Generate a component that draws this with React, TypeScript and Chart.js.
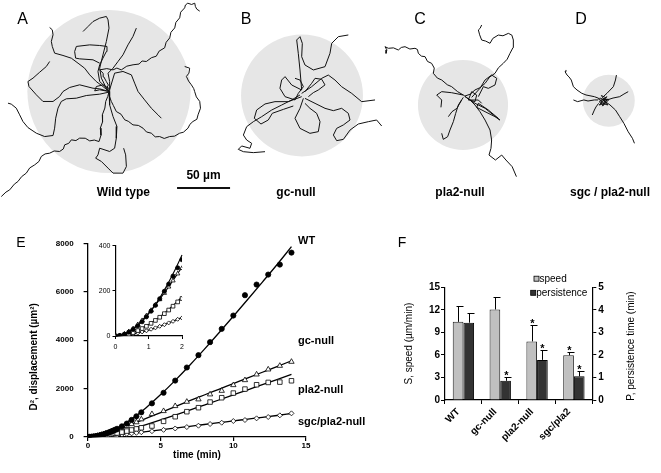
import React, { useEffect, useRef } from 'react';
import { Chart, registerables } from 'chart.js';

Chart.register(...registerables);

const FONT = '"Liberation Sans", Arial, Helvetica, sans-serif';

type Pt = [number, number];

// ---------------- Panels A–D : cell tracks (µm, origin = panel centre) ----------------
const TRACKS_WT: Pt[][] = [
  [[0,0],[-1.8,4.2],[-0.6,6.1],[-2.5,9.4],[-4.9,13.8],[-5.5,17.2],[-8.8,20.4],[-2.1,21.6],[3.8,20.4],[7.4,22.1],[11.6,20.4],[16.8,23.9],[22.7,25.2],[28.4,25.9],[31.2,28.8],[35.2,28.3],[40.1,31.9],[44.6,33.3],[47.3,38.1],[52.5,41.2],[53.9,46.4],[57.3,50.6],[58.4,55.8],[62,60],[63.1,65.2],[66.7,69.5],[67.6,74.8],[71.4,78.9],[72.1,81.6],[74.3,83.3],[77.9,82.1],[80.9,83.3],[81.5,80.2],[82.8,77.7],[85.6,75.8]],
  [[0,0],[-5.7,4.7],[-12,9.4],[-18.2,15.7],[-23,22],[-29.2,26.7],[-35.5,31.4],[-43.4,34],[-51.3,36.2],[-53.5,42.5],[-54.4,47.2],[-52.8,53.5],[-53.5,58.2],[-56,60.4]],
  [[-2,3],[-8.8,9.4],[-10.4,18.9],[-8.8,25.2],[-5.7,31.5],[-2.5,37.7],[-1.9,42.5],[-8.8,43.4],[-18.2,44],[-30.8,42.5],[-32.4,37.7],[-31.5,31.5],[-27.7,30.8],[-15.1,29.9],[-8.8,26.7]],
  [[0,0],[-2.5,3.1],[-7.2,12.6],[-8.8,22],[-5.7,34.6],[-2.5,47.2],[0,59.8],[-0.9,67.6],[-2.5,70.8],[-8.8,69.2],[-15.1,66],[-19.8,61.3],[-24.5,56.6]],
  [[0,0],[0.6,9.4],[-0.9,17.3],[3.8,22],[8.5,28.3],[13.2,34.6],[17.9,44],[22.6,51.9],[25.8,59.8]],
  [[0.6,1.6],[5.3,17.3],[13.2,18.9],[21.1,15.7],[24.2,7.9],[27.4,0],[33.6,-7.9],[39.9,-15.7],[46.2,-22],[49.4,-25.2]],
  [[0,0],[0.4,-4.6],[2.2,-9.4],[4.1,-13.2],[6.9,-18.9],[11.3,-21.4],[14.8,-26.7],[18.2,-28.1],[22.6,-31.5],[27.7,-32.0],[32.1,-34.6],[35.4,-38.2],[39.9,-39.3],[43.6,-42.8],[47.8,-42.5],[52.1,-44.3],[57.2,-42.5],[61.9,-42.1],[66.7,-39.3],[70.2,-38.4],[74.5,-34.6],[76.3,-31.0],[79.2,-28.3],[82.9,-26.2],[84,-22],[86.3,-15.8],[85.6,-9.4],[82.4,-5.1],[80.8,0],[79.9,2.8],[77.7,6.3],[75.1,9.8],[73,14.2],[75.4,17.3],[76.1,22],[71.4,23.6]],
  [[0,0],[-8.8,2.5],[-15.1,3.1],[-27.7,6.3],[-37.1,3.8],[-43.4,0],[-46.6,-4.7],[-52.8,-9.4],[-62.3,-9.4],[-68.6,-3.1],[-75.5,4.7],[-76.5,9.4],[-71.7,12.6],[-65.4,18.2],[-59.1,23.6],[-56,28.3]],
  [[0,-0.6],[-8.8,-2.5],[-21.4,-3.8],[-30.8,-6.3],[-40.3,-6.9],[-45,-9.4],[-48.1,-15.7],[-50.3,-25.2],[-51.3,-34.6],[-52.8,-41.5],[-60.7,-42.5],[-68.6,-39.3],[-76.5,-34],[-81.2,-28.3],[-84.3,-22],[-87.5,-15.7],[-92.2,-11.9],[-95.3,-11]],
  [[0,0],[-1.2,-4.8],[-3.1,-9.4],[-3.9,-15.6],[-6.3,-22],[-6.1,-28.7],[-8.2,-34.6],[-7.6,-41.3],[-9.4,-47.2],[-13.9,-45.8],[-18.2,-46.6],[-22.4,-44.1],[-27.7,-44],[-31.2,-46.3],[-35.5,-45.6],[-38.0,-48.9],[-41.8,-50.3],[-43.1,-54.2],[-46.6,-56.6],[-51.7,-56.1],[-56,-58.2],[-60.3,-58.9],[-63.9,-61.3],[-66.1,-66.0],[-70.1,-69.2],[-74.8,-72.1],[-78,-77],[-82.4,-80.3],[-85.9,-84.9],[-89.3,-87.4],[-93.7,-92.8],[-97.2,-94.9],[-101.6,-99.1]],
  [[0,0],[0.6,-12.6],[3.8,-23.6],[7.5,-33],[6.9,-44],[5.3,-53.5],[0.6,-56.6],[-8.8,-53.5],[-10.4,-59.8],[-12.6,-62.9],[-7.2,-66],[-0.9,-72.3],[3.8,-77],[13.2,-77],[16.4,-70.8],[15.7,-59.8],[13.8,-53.5]],
  [[0,0],[-8.8,1.6],[-13.5,0.6],[-11.9,4.7],[-5.7,6.3],[0.6,2.5]],
];

const TRACKS_GC: Pt[][] = [
  [[-0.3,5.2],[-1.9,24.1],[-3.5,39.8],[-5,52.4],[-1.9,55.5],[0.3,49.2],[-0.3,36.6],[2.8,28.8],[10.7,24.1],[21.7,27.2],[26.4,39.8],[28,49.2],[34.3,55.5],[43.7,57.1]],
  [[-0.3,2],[9.1,8.3],[18.6,16.2],[24.8,19.3],[31.1,14.6],[37.4,8.3],[46.9,2],[56.3,-5.8],[68.9,-4.2]],
  [[2.8,-2.7],[12.3,-7.4],[21.7,-12.1],[29.6,-14.3],[37.4,-12.1],[43.7,-16.8],[45.3,-23.1],[39,-27.8],[32.7,-31],[29.6,-37.3],[32.7,-42.6],[39,-41.4],[45.3,-32.6],[53.1,-26.9],[62.6,-24.7],[70.4,-23.1],[75.2,-28.8]],
  [[-1.9,0.5],[-9.7,-4.2],[-19.2,-9],[-28.6,-13.7],[-38.1,-20],[-45.9,-24.7],[-52.2,-29.4],[-55.3,-37.3],[-52.2,-42],[-47.5,-45.1],[-49.1,-49.8],[-56.9,-47.6],[-60.1,-50.8],[-55.3,-53],[-45.9,-53.9],[-34.9,-53]],
  [[-0.3,5.2],[-9.7,9.9],[-16,17.8],[-19.2,14.6],[-20.8,6.8],[-16,-1.1],[-6.6,-4.2],[-3.5,2],[1.3,8.3],[-1.9,14.6],[-6.6,16.2]],
  [[1.3,-2.7],[-1.9,-12.1],[-6.6,-21.5],[-1.9,-31],[7.5,-35.7],[15.4,-34.1],[17,-24.7],[13.8,-16.8],[7.5,-12.1],[2.8,-7.4]],
  [[-0.3,-1.1],[-12.9,-5.8],[-25.5,-5.8],[-34.9,-8],[-42.8,-13.7],[-45,-21.5],[-38.7,-26.9],[-31.8,-23.1],[-28,-16.8],[-17.6,-13.1],[-8.2,-9.9]],
  [[2.8,3.6],[9.1,11.5],[12.3,16.2],[18.6,15.3],[21.7,10],[15.4,5.2],[10.7,2.7],[6,-1.1]],
];

const TRACKS_PLA2: Pt[][] = [
  [[0.3,9.4],[-5.1,12.6],[-10.7,17.3],[-14.8,19.1],[-20.1,23.6],[-24.2,25.4],[-28,29.9],[-27.1,34.8],[-29.6,39.3],[-33.5,41.1],[-35.8,45.6],[-39.2,46.1],[-42.1,48.7],[-43.0,52.4],[-45.3,53.5],[-50.1,52.8],[-54.7,55],[-58.2,54.3],[-61,51.9],[-65.6,53.9],[-70.4,53.5],[-73.6,55],[-71.8,52.0],[-72.6,48.7]],
  [[1.9,8.5],[6.8,10.2],[11.3,14.2],[16.4,16.5],[20.8,20.4],[25.1,26.3],[30.2,29.9],[33.4,35.1],[38,39.3],[41.7,43.2],[44.3,48.7],[47.2,54.2],[47.5,61.3],[46.1,65.9],[42.8,67.6],[37.7,65.3],[33.3,66],[28.1,62.8],[25.5,58.2],[21.4,60.3],[17.6,61.3],[15.7,66.2],[14.5,70.8],[16.2,72.4],[17.6,75.5]],
  [[8.2,7.2],[16,15.7],[20.8,23.6],[27,28.3],[31.8,25.2],[30.2,18.9],[23.9,15.7],[19.2,17.3],[14.5,7.9]],
  [[0.3,9.4],[-10.7,11.6],[-20.1,12.6],[-24.8,9.4],[-20.1,4.7],[-20.8,-2.2]],
  [[0.3,7.2],[-4.4,0],[-6.9,-7.9],[-9.1,-15.7],[-12.3,-23.6],[-14.5,-29.9],[-18.6,-32.4],[-20.1,-26.7]],
  [[5,6.3],[11.3,0],[16,-6.3],[20.8,-14.2],[25.5,-23.6],[27,-33],[26.4,-40.9],[24.5,-47.2],[30.6,-51.9],[36.5,-47.2],[40.5,-51.9],[46.4,-58.2],[50.4,-67.6]],
  [[1.9,7.9],[11.3,1.6],[20.8,-3.1],[28.6,-9.4],[34.9,-14.2],[30.2,-11],[20.8,-6.3],[12.9,-2.2],[14.5,1.6],[23.9,-4.7],[33.3,-12.6]],
  [[0.3,9.4],[6.6,4.7],[11.3,3.1],[12.9,9.4],[8.2,12.6],[5,4.7],[14.5,4.7],[17.6,1.6]],
  [[-1.3,4.7],[-5.7,-3.1],[-10.4,-6.3],[-13.8,-11]],
];

const TRACKS_SGC: Pt[][] = [
  [[-9.6,2.4],[-13.6,3.9],[-21.5,5.5],[-25.5,7.1],[-30,10.2],[-33.4,13.3],[-35.4,19.6],[-37.5,22.5],[-39.4,24.3],[-41.3,27.5],[-40.4,29.1]],
  [[-5.6,0.8],[1.1,-3.9],[6.3,-8.7],[10.3,-15],[14.2,-21.2],[18.3,-29.2],[22.3,-35.4],[24.2,-40.1]],
  [[-5.5,3.6],[-1.7,7.1],[4.3,13.3],[6.3,19.6],[7.2,24.3]],
  [[-5.5,0.8],[-1.7,0.8],[4,2.6],[10.3,3.9],[14.3,6.4],[18.3,8.6]],
  [[-10.2,0.8],[-13.6,0.8],[-19.6,-0.2],[-23.5,0.8],[-29.4,-0.8],[-33.4,0.8]],
  [[-9.6,-2.4],[-12.1,-5.8],[-13.6,-8.7],[-15.6,-13.4]],
  [[-8,3],[-3,-2],[-9,-4],[-2,4],[-6,-5],[0,1],[-10,2],[-4,-3],[-1,-4],[-7,5],[-3,3],[-9,-1],[-5,-4],[-1,2]],
];

const DISC_WT_UM = 77;
const DISC_GC_UM = 57.5;
const DISC_PLA2_UM = 42.5;
const DISC_SGC_UM = 24.5;
const SCALE_BAR_UM = 50;

// ---------------- Panel E : mean squared displacement ----------------
const TIME_MIN = [0, 0.13, 0.27, 0.4, 0.53, 0.67, 0.8, 0.93, 1.07, 1.2, 1.33, 1.47, 1.6, 1.73, 1.87, 2.0, 2.33, 2.67, 3.0, 3.33, 3.67, 4.4, 5.2, 6.0, 6.8, 7.6, 8.4, 9.2, 10.0, 10.8, 11.6, 12.4, 13.2, 14.0];
const D2_WT = [0, 2, 8, 17, 29, 45, 63, 85, 110, 136, 165, 198, 230, 265, 302, 338, 440, 555, 705, 855, 1018, 1390, 1827, 2330, 2870, 3381, 3918, 4466, 5017, 5856, 6296, 6708, 7121, 7615];
const D2_GC = [0, 2, 9, 20, 33, 51, 69, 90, 114, 138, 162, 190, 218, 245, 276, 300, 378, 455, 535, 610, 730, 948, 1072, 1278, 1456, 1555, 1761, 1909, 2144, 2350, 2584, 2790, 2941, 3107];
const D2_PLA2 = [0, 1, 4, 9, 15, 24, 33, 43, 56, 69, 83, 99, 115, 132, 151, 166, 200, 245, 290, 335, 380, 454, 647, 838, 1045, 1210, 1443, 1622, 1814, 1979, 2158, 2254, 2268, 2322];
const D2_SGC = [0, 1, 2, 5, 9, 13, 18, 23, 30, 36, 43, 50, 58, 65, 74, 80, 104, 127, 150, 173, 197, 240, 295, 352, 410, 467, 536, 591, 660, 701, 770, 825, 895, 977];

const FIT_TIME = [0, 1, 2, 3, 4, 5, 6, 7, 8, 9, 10, 11, 12, 13, 14];
const FIT_WT = [0, 99, 359, 741, 1213, 1752, 2340, 2966, 3621, 4296, 4987, 5688, 6399, 7115, 7860];
const FIT_GC = [0, 100, 300, 530, 770, 1010, 1255, 1500, 1735, 1970, 2205, 2440, 2675, 2910, 3146];
const FIT_PLA2 = [0, 50, 169, 328, 509, 703, 906, 1112, 1320, 1528, 1739, 1950, 2162, 2373, 2585];
const FIT_SGC = [0, 26, 82, 149, 221, 294, 368, 442, 516, 590, 665, 739, 814, 888, 970];

const FIT_TIME_INSET = [0, 0.25, 0.5, 0.75, 1, 1.25, 1.5, 1.75, 2, 2.05];
const FIT_WT_INSET = [0, 7, 26, 57, 99, 150, 211, 281, 359, 375];
const FIT_GC_INSET = [0, 8, 30, 62, 102, 147, 197, 250, 305, 316];
const FIT_PLA2_INSET = [0, 4, 14, 30, 51, 76, 105, 138, 173, 180];
const FIT_SGC_INSET = [0, 2, 8, 16, 26, 39, 52, 67, 82, 85];
const INSET_MAX_TIME = 2;

const E_SERIES_LABELS = ['WT', 'gc-null', 'pla2-null', 'sgc/pla2-null'];

// ---------------- Panel F : speed & persistence ----------------
const F_CATEGORIES = ['WT', 'gc-null', 'pla2-null', 'sgc/pla2'];
const SPEED = [10.4, 12.05, 7.8, 5.95];
const SPEED_ERR = [2.05, 1.6, 2.2, 0.5];
const PERSISTENCE = [3.43, 0.85, 1.78, 1.05];
const PERSISTENCE_ERR = [0.43, 0.17, 0.45, 0.25];
const SPEED_SIGNIFICANT = [false, false, true, true];
const PERSISTENCE_SIGNIFICANT = [false, true, true, true];

// ---------------- layout ----------------
const PX_PER_UM = 1.06;

const pts = (xs: number[], ys: number[]) => xs.map((x, i) => ({ x, y: ys[i] }));
const plainTick = (v: any) => String(v);

function TrackPanel(p: any) {
  const ref = useRef<HTMLCanvasElement>(null);
  useEffect(() => {
    const { tracks, radius, left, top, width, height, cx, cy, scaleBar } = p;
    const ox = cx - left;
    const oy = cy - top;
    const disc = {
      id: 'disc',
      beforeDatasetsDraw(chart: any) {
        const { ctx, scales } = chart;
        const x0 = scales.x.getPixelForValue(0);
        const y0 = scales.y.getPixelForValue(0);
        const rx = scales.x.getPixelForValue(radius) - x0;
        const ry = y0 - scales.y.getPixelForValue(radius);
        ctx.save();
        ctx.fillStyle = '#e6e6e6';
        ctx.beginPath();
        ctx.ellipse(x0, y0, rx, ry, 0, 0, Math.PI * 2);
        ctx.fill();
        ctx.restore();
      },
    };
    const bar = {
      id: 'scaleBar',
      afterDatasetsDraw(chart: any) {
        if (!scaleBar) return;
        const { ctx, scales } = chart;
        const x1 = scales.x.getPixelForValue(scaleBar.x);
        const x2 = scales.x.getPixelForValue(scaleBar.x + SCALE_BAR_UM);
        const y = scales.y.getPixelForValue(scaleBar.y);
        ctx.save();
        ctx.strokeStyle = '#111';
        ctx.lineWidth = 2;
        ctx.beginPath();
        ctx.moveTo(x1, y);
        ctx.lineTo(x2, y);
        ctx.stroke();
        ctx.fillStyle = '#000';
        ctx.font = `bold 12px ${FONT}`;
        ctx.textAlign = 'center';
        ctx.textBaseline = 'middle';
        ctx.fillText(`${SCALE_BAR_UM} µm`, (x1 + x2) / 2, y - 12);
        ctx.restore();
      },
    };
    const chart = new Chart(ref.current as HTMLCanvasElement, {
      type: 'scatter',
      data: {
        datasets: tracks.map((tr: Pt[]) => ({
          data: tr.map(([x, y]) => ({ x, y })),
          showLine: true,
          pointRadius: 0,
          borderColor: '#111',
          borderWidth: 1,
          tension: 0,
        })),
      },
      options: {
        responsive: false,
        animation: false,
        events: [],
        layout: { padding: 0 },
        plugins: { legend: { display: false }, tooltip: { enabled: false } },
        scales: {
          x: { type: 'linear', display: false, min: -ox / PX_PER_UM, max: (width - ox) / PX_PER_UM },
          y: { type: 'linear', display: false, min: -(height - oy) / PX_PER_UM, max: oy / PX_PER_UM },
        },
      } as any,
      plugins: [disc, bar],
    });
    return () => chart.destroy();
  }, []);
  return (
    <canvas
      ref={ref}
      width={p.width}
      height={p.height}
      style={{ position: 'absolute', left: p.left, top: p.top, width: p.width, height: p.height }}
    />
  );
}

const SERIES_STYLE = [
  { pointStyle: 'circle', fill: '#000', r: 2.6, rIn: 2.1 },
  { pointStyle: 'triangle', fill: '#fff', r: 3.1, rIn: 2.5 },
  { pointStyle: 'rect', fill: '#fff', r: 3.2, rIn: 2.6 },
  { pointStyle: 'rectRot', fill: '#fff', r: 2.5, rIn: 2.0 },
];

function PanelE() {
  const mainRef = useRef<HTMLCanvasElement>(null);
  const insetRef = useRef<HTMLCanvasElement>(null);
  useEffect(() => {
    const values = [D2_WT, D2_GC, D2_PLA2, D2_SGC];
    const fits = [FIT_WT, FIT_GC, FIT_PLA2, FIT_SGC];
    const fitsIn = [FIT_WT_INSET, FIT_GC_INSET, FIT_PLA2_INSET, FIT_SGC_INSET];

    const axisFont = (size: number, bold: boolean) => ({ family: FONT, size, weight: bold ? 'bold' : 'normal' });

    const markerSet = (vals: number[], i: number, inset: boolean) => {
      const s = SERIES_STYLE[i];
      const data = pts(TIME_MIN, vals).filter((d) => !inset || d.x <= INSET_MAX_TIME);
      return {
        label: E_SERIES_LABELS[i],
        data,
        showLine: false,
        pointStyle: s.pointStyle,
        pointRadius: inset ? s.rIn : s.r,
        pointBackgroundColor: s.fill,
        pointBorderColor: '#000',
        pointBorderWidth: 0.8,
        order: 1,
      };
    };
    const fitSet = (xs: number[], ys: number[]) => ({
      data: pts(xs, ys),
      showLine: true,
      pointRadius: 0,
      borderColor: '#000',
      borderWidth: 1.3,
      cubicInterpolationMode: 'monotone',
      clip: false,
      order: 2,
    });

    const main = new Chart(mainRef.current as HTMLCanvasElement, {
      type: 'scatter',
      data: {
        datasets: [
          ...values.map((v, i) => markerSet(v, i, false)),
          ...fits.map((f) => fitSet(FIT_TIME, f)),
        ],
      },
      options: {
        responsive: false,
        animation: false,
        events: [],
        layout: { padding: { left: 0, top: 18.3, right: 24, bottom: 0 } },
        plugins: { legend: { display: false }, tooltip: { enabled: false } },
        scales: {
          x: {
            type: 'linear', min: 0, max: 15,
            afterFit: (s: any) => { s.height = 36; },
            ticks: { stepSize: 5, color: '#000', font: axisFont(8, true), padding: 0, maxRotation: 0, callback: plainTick },
            grid: { drawOnChartArea: false, drawTicks: true, tickLength: 4, color: '#000', lineWidth: 1.2 },
            border: { color: '#000', width: 1.3 },
            title: { display: true, text: 'time (min)', color: '#000', font: axisFont(10, true), padding: { top: 0, bottom: 12 } },
          },
          y: {
            type: 'linear', min: 0, max: 8000,
            afterFit: (s: any) => { s.width = 88; },
            ticks: { stepSize: 2000, color: '#000', font: axisFont(8, true), padding: 10, callback: plainTick },
            grid: { drawOnChartArea: false, drawTicks: true, tickLength: 4.4, color: '#000', lineWidth: 1.2 },
            border: { color: '#000', width: 1.3 },
            title: {
              display: true,
              text: 'D², displacement (µm²)' + '\u00a0'.repeat(12),
              color: '#000', font: axisFont(10, true), padding: { top: 28, bottom: 0 },
            },
          },
        },
      } as any,
    });

    const inset = new Chart(insetRef.current as HTMLCanvasElement, {
      type: 'scatter',
      data: {
        datasets: [
          ...values.map((v, i) => markerSet(v, i, true)),
          ...fitsIn.map((f) => ({ ...fitSet(FIT_TIME_INSET, f), borderWidth: 1.1 })),
        ],
      },
      options: {
        responsive: false,
        animation: false,
        events: [],
        layout: { padding: { left: 0, top: 10.7, right: 13, bottom: 0 } },
        plugins: { legend: { display: false }, tooltip: { enabled: false } },
        scales: {
          x: {
            type: 'linear', min: 0, max: INSET_MAX_TIME,
            afterFit: (s: any) => { s.height = 19; },
            ticks: { stepSize: 1, color: '#000', font: axisFont(7, false), padding: 4, maxRotation: 0, callback: plainTick },
            grid: { drawOnChartArea: false, drawTicks: true, tickLength: 3, color: '#000' },
            border: { color: '#000', width: 1.2 },
          },
          y: {
            type: 'linear', min: 0, max: 400,
            afterFit: (s: any) => { s.width = 20.5; },
            ticks: { stepSize: 200, color: '#000', font: axisFont(7, false), padding: 2, callback: plainTick },
            grid: { drawOnChartArea: false, drawTicks: true, tickLength: 3, color: '#000' },
            border: { color: '#000', width: 1.2 },
          },
        },
      } as any,
    });

    return () => { main.destroy(); inset.destroy(); };
  }, []);
  return (
    <>
      <canvas ref={mainRef} width={330} height={248} style={{ position: 'absolute', left: 0, top: 225, width: 330, height: 248 }} />
      <canvas ref={insetRef} width={100} height={120} style={{ position: 'absolute', left: 95, top: 235, width: 100, height: 120 }} />
    </>
  );
}

function PanelF() {
  const ref = useRef<HTMLCanvasElement>(null);
  useEffect(() => {
    const axisFont = (size: number, bold: boolean) => ({ family: FONT, size, weight: bold ? 'bold' : 'normal' });
    const extras = {
      id: 'fExtras',
      afterDatasetsDraw(chart: any) {
        const { ctx } = chart;
        const specs = [
          { values: SPEED, err: SPEED_ERR, sig: SPEED_SIGNIFICANT },
          { values: PERSISTENCE, err: PERSISTENCE_ERR, sig: PERSISTENCE_SIGNIFICANT },
        ];
        ctx.save();
        specs.forEach((s, di) => {
          const meta = chart.getDatasetMeta(di);
          const scale = chart.scales[meta.yAxisID];
          meta.data.forEach((el: any, i: number) => {
            const x = Math.round(el.x) + 0.5;
            const yb = el.y;
            const yt = Math.round(scale.getPixelForValue(s.values[i] + s.err[i])) + 0.5;
            ctx.strokeStyle = '#000';
            ctx.lineWidth = 1;
            ctx.beginPath();
            ctx.moveTo(x, yb);
            ctx.lineTo(x, yt);
            ctx.moveTo(x - 2, yt);
            ctx.lineTo(x + 5, yt);
            ctx.stroke();
            if (s.sig[i]) {
              ctx.fillStyle = '#000';
              ctx.font = `bold 11px ${FONT}`;
              ctx.textAlign = 'center';
              ctx.textBaseline = 'alphabetic';
              ctx.fillText('*', x, yt + 1.5);
            }
          });
        });
        ctx.restore();
      },
      afterDraw(chart: any) {
        const { ctx, chartArea, data } = chart;
        ctx.save();
        const offs = [[89, -8.6], [85.7, 5.5]];
        data.datasets.forEach((ds: any, i: number) => {
          const bx = chartArea.left + offs[i][0];
          const by = chartArea.top + offs[i][1];
          ctx.fillStyle = ds.backgroundColor;
          ctx.fillRect(bx, by - 2.5, 5, 5);
          ctx.strokeStyle = '#000';
          ctx.lineWidth = 0.8;
          ctx.strokeRect(bx, by - 2.5, 5, 5);
          ctx.fillStyle = '#000';
          ctx.font = `10px ${FONT}`;
          ctx.textAlign = 'left';
          ctx.textBaseline = 'middle';
          ctx.fillText(ds.label, bx + 5.5, by + 0.5);
        });
        const y1 = chart.scales.y1;
        ctx.translate(y1.left + 39.4, (chartArea.top + chartArea.bottom) / 2 + 2.4);
        ctx.rotate(-Math.PI / 2);
        ctx.font = `10px ${FONT}`;
        ctx.textAlign = 'center';
        ctx.textBaseline = 'middle';
        ctx.fillText('P, persistence time (min)', 0, 0);
        ctx.restore();
      },
    };
    const chart = new Chart(ref.current as HTMLCanvasElement, {
      type: 'bar',
      data: {
        labels: F_CATEGORIES,
        datasets: [
          { label: 'speed', data: SPEED, yAxisID: 'y', backgroundColor: '#c0c0c0', borderColor: '#222', borderWidth: 1, categoryPercentage: 0.58, barPercentage: 1 },
          { label: 'persistence', data: PERSISTENCE, yAxisID: 'y1', backgroundColor: '#333333', borderColor: '#000', borderWidth: 1, categoryPercentage: 0.58, barPercentage: 1 },
        ],
      },
      options: {
        responsive: false,
        animation: false,
        events: [],
        layout: { padding: { left: 0, top: 17.3, right: 0, bottom: 0 } },
        plugins: { legend: { display: false }, tooltip: { enabled: false } },
        scales: {
          x: {
            type: 'category',
            offset: true,
            afterFit: (s: any) => { s.height = 73; },
            ticks: { color: '#000', font: axisFont(10, true), minRotation: 45, maxRotation: 45, padding: 2, labelOffset: -5 },
            grid: { offset: true, drawOnChartArea: false, drawTicks: true, tickLength: 4, color: '#000' },
            border: { color: '#000', width: 1.2 },
          },
          y: {
            position: 'left', min: 0, max: 15,
            afterFit: (s: any) => { s.width = 50; },
            ticks: { stepSize: 3, color: '#000', font: axisFont(10, true), padding: 1 },
            grid: { drawOnChartArea: false, drawTicks: true, tickLength: 4, color: '#000' },
            border: { color: '#000', width: 1.2 },
            title: { display: true, text: 'S, speed (µm/min)', color: '#000', font: axisFont(10, false), padding: { top: 8, bottom: 0 } },
          },
          y1: {
            position: 'right', min: 0, max: 5,
            afterFit: (s: any) => { s.width = 68.7; },
            ticks: { stepSize: 1, color: '#000', font: axisFont(10, true), padding: 2 },
            grid: { drawOnChartArea: false, drawTicks: true, tickLength: 4, color: '#000' },
            border: { color: '#000', width: 1.2 },
          },
        },
      } as any,
      plugins: [extras],
    });
    return () => chart.destroy();
  }, []);
  return <canvas ref={ref} width={266} height={203} style={{ position: 'absolute', left: 395, top: 270, width: 266, height: 203 }} />;
}

function Txt(p: any) {
  return (
    <div
      style={{
        position: 'absolute',
        left: p.x,
        top: p.y,
        fontSize: p.size,
        fontWeight: p.bold ? 'bold' : 'normal',
        lineHeight: 1,
        whiteSpace: 'nowrap',
        transform: p.leftAlign ? 'translate(0,-50%)' : 'translate(-50%,-50%)',
      }}
    >
      {p.children}
    </div>
  );
}

const PANELS = [
  { key: 'A', tracks: TRACKS_WT, radius: DISC_WT_UM, left: 0, width: 240, cx: 109, cy: 91.5, scaleBar: { x: 64.2, y: -91 } },
  { key: 'B', tracks: TRACKS_GC, radius: DISC_GC_UM, left: 225, width: 165, cx: 302, cy: 95.5 },
  { key: 'C', tracks: TRACKS_PLA2, radius: DISC_PLA2_UM, left: 380, width: 145, cx: 463, cy: 105 },
  { key: 'D', tracks: TRACKS_SGC, radius: DISC_SGC_UM, left: 545, width: 116, cx: 608.8, cy: 100.8 },
];

export default function App() {
  return (
    <div
      style={{
        position: 'absolute', left: 0, top: 0, width: 661, height: 473,
        background: '#fff', overflow: 'hidden', fontFamily: FONT, color: '#000',
      }}
    >
      {PANELS.map((pn) => (
        <TrackPanel key={pn.key} {...pn} top={0} height={210} />
      ))}
      <PanelE />
      <PanelF />

      <Txt x={22.5} y={19} size={16}>A</Txt>
      <Txt x={246} y={19} size={16}>B</Txt>
      <Txt x={420} y={19} size={16}>C</Txt>
      <Txt x={581} y={19} size={16}>D</Txt>
      <Txt x={123.3} y={192} size={12} bold>Wild type</Txt>
      <Txt x={296} y={192} size={12} bold>gc-null</Txt>
      <Txt x={460} y={192} size={12} bold>pla2-null</Txt>
      <Txt x={610} y={192} size={12} bold>sgc / pla2-null</Txt>

      <Txt x={21} y={241.7} size={14}>E</Txt>
      <Txt x={402} y={242} size={14}>F</Txt>

      <Txt x={298} y={240} size={11} bold leftAlign>{E_SERIES_LABELS[0]}</Txt>
      <Txt x={298} y={340} size={11} bold leftAlign>{E_SERIES_LABELS[1]}</Txt>
      <Txt x={298} y={389} size={11} bold leftAlign>{E_SERIES_LABELS[2]}</Txt>
      <Txt x={298} y={420.5} size={11} bold leftAlign>{E_SERIES_LABELS[3]}</Txt>
    </div>
  );
}
